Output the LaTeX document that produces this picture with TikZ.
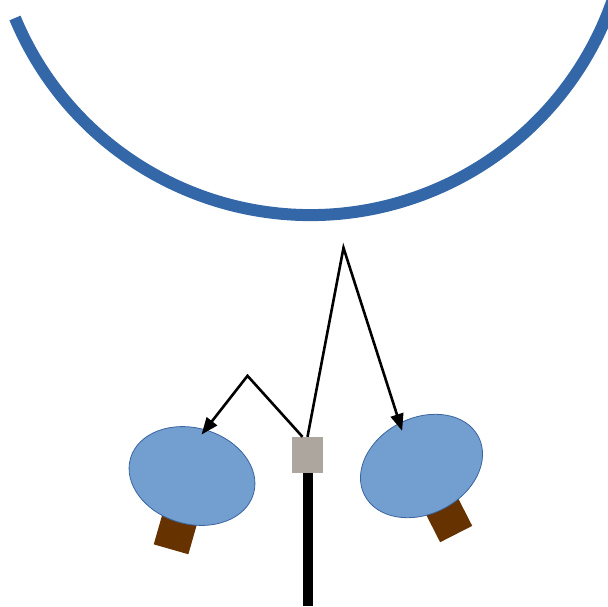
\documentclass[tikz,border=0pt]{standalone}
\usetikzlibrary{arrows.meta, positioning, shapes.geometric}
\definecolor{bowlblue}{HTML}{3467A8}
\definecolor{dishfill}{HTML}{729FCF}
\definecolor{dishline}{HTML}{3A64A0}
\definecolor{feedbrown}{HTML}{663300}
\definecolor{boxgray}{HTML}{ADA69F}

\begin{document}
\begin{tikzpicture}[x=1pt, y=-1pt,
    dish/.style={ellipse, draw=dishline, line width=0.8pt, fill=dishfill, minimum width=128pt, minimum height=96pt, inner sep=0pt, outer sep=0pt},
    feed/.style={rectangle, fill=feedbrown, minimum width=36pt, minimum height=36pt, inner sep=0pt},
    ray/.style={line width=2.6pt, -{Triangle[length=17pt, width=13pt]}}]
  \useasboundingbox (0,0) rectangle (608,606);
  \clip (0,0) rectangle (608,606);
  % main reflector
  \draw[bowlblue, line width=12pt] (15,18) arc[start angle=157.4, end angle=18, radius=320];
  % mast with the feed box on top
  \node[fill=boxgray, minimum width=31pt, minimum height=36pt, inner sep=0pt] (box) at (307.5,455) {};
  \coordinate (base) at (307.5,606);
  \draw[line width=10pt] (box.south) -- (base);
  % the two receiving dishes
  \node[feed, rotate=-16] (feedL) at (176,532) {};
  \node[dish, rotate=-16] (dishL) at (192,476) {};
  \node[feed, rotate=27] (feedR) at (448,518) {};
  \node[dish, rotate=27] (dishR) at (421.5,466) {};
  % signal paths
  \coordinate[above left=61pt and 60pt of box.north] (kinkL);
  \coordinate[above right=189pt and 36pt of box.north] (kinkR);
  \draw[ray, shorten >=-6pt] ([xshift=-5pt]box.north) -- (kinkL) -- (dishL.north);
  \draw[ray, shorten >=-8pt] (box.north) -- (kinkR) -- (dishR.north);
\end{tikzpicture}
\end{document}
